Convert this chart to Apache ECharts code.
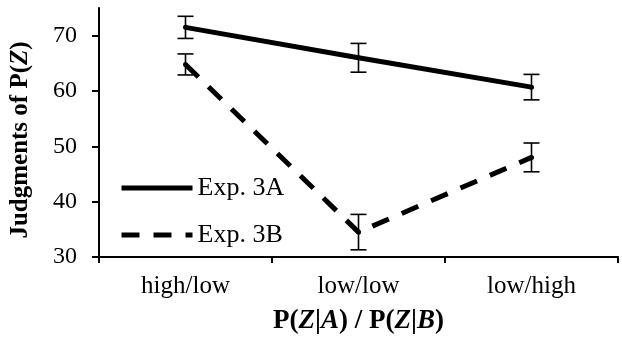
<!DOCTYPE html>
<html>
<head>
<meta charset="utf-8">
<script src="https://cdn.jsdelivr.net/npm/echarts@6/dist/echarts.min.js"></script>
<style>
    html, body { margin: 0; padding: 0; background: #fff; }
    #chart { width: 622px; height: 340px; }
</style>
</head>
<body>
<div id="chart"></div>
<script>
    // data
    let categories = ['high/low', 'low/low', 'low/high'];
    let exp3A = [71.5, 66.0, 60.7];
    let exp3AErr = [2.0, 2.6, 2.3];
    let exp3B = [64.8, 34.5, 48.0];
    let exp3BErr = [1.9, 3.2, 2.6];
    let yTicks = [30, 40, 50, 60, 70];

    let font = 'Liberation Serif';

    function errData(means, errs) {
        return means.map((m, i) => [i, m, m - errs[i], m + errs[i]]);
    }

    function renderErr(params, api) {
        let x = api.value(0);
        let mid = api.coord([x, api.value(1)]);
        let lo = api.coord([x, api.value(2)]);
        let hi = api.coord([x, api.value(3)]);
        let half = 8;
        let st = {stroke: '#000', lineWidth: 1.6};
        return {
            type: 'group',
            children: [
                {type: 'line', shape: {x1: lo[0], y1: lo[1], x2: hi[0], y2: hi[1]}, style: st},
                {type: 'line', shape: {x1: lo[0] - half, y1: lo[1], x2: lo[0] + half, y2: lo[1]}, style: st},
                {type: 'line', shape: {x1: hi[0] - half, y1: hi[1], x2: hi[0] + half, y2: hi[1]}, style: st},
                {type: 'circle', shape: {cx: mid[0], cy: mid[1], r: 2.5}, style: {fill: '#000'}}
            ]
        };
    }

    function richName(size) {
        return {
            b: {fontFamily: font, fontSize: size, fontWeight: 'bold', color: '#000'},
            bi: {fontFamily: font, fontSize: size, fontWeight: 'bold', fontStyle: 'italic', color: '#000'}
        };
    }

    let myChart = echarts.init(document.getElementById('chart'));
    let option = {
        animation: false,
        textStyle: {fontFamily: font, color: '#000'},
        grid: {left: 98, right: 4, top: 8, bottom: 83},
        legend: {
            data: ['Exp. 3A', 'Exp. 3B'],
            orient: 'vertical',
            left: 119,
            top: 175,
            padding: 0,
            itemWidth: 71,
            itemHeight: 14,
            itemGap: 21,
            itemStyle: {color: 'rgba(0,0,0,0)', borderWidth: 0},
            lineStyle: {width: 5},
            textStyle: {fontFamily: font, fontSize: 26, color: '#000', padding: [0, 0, 0, 0]}
        },
        xAxis: {
            type: 'category',
            data: categories,
            boundaryGap: true,
            axisLine: {lineStyle: {color: '#000', width: 2}},
            axisTick: {show: true, length: 6, lineStyle: {color: '#000', width: 2}},
            axisLabel: {fontFamily: font, fontSize: 25, color: '#000', margin: 17},
            name: '{b|P(}{bi|Z}{b||}{bi|A}{b|) / P(}{bi|Z}{b||}{bi|B}{b|)}',
            nameLocation: 'middle',
            nameGap: 51,
            nameTextStyle: {rich: richName(27)}
        },
        yAxis: {
            type: 'value',
            min: 30,
            max: 75,
            interval: 10,
            splitLine: {show: false},
            axisLine: {show: true, lineStyle: {color: '#000', width: 2}},
            axisTick: {show: true, length: 7, customValues: yTicks, lineStyle: {color: '#000', width: 2}},
            axisLabel: {fontFamily: font, fontSize: 24, color: '#000', margin: 22, customValues: yTicks},
            name: '{b|Judgments of P(}{bi|Z}{b|)}',
            nameLocation: 'middle',
            nameGap: 66,
            nameRotate: 90,
            nameTextStyle: {rich: richName(25), padding: [0, 15, 0, 0]}
        },
        series: [
            {
                name: 'Exp. 3A',
                type: 'line',
                data: exp3A,
                symbol: 'none',
                itemStyle: {color: '#000'},
                lineStyle: {color: '#000', width: 5}
            },
            {
                name: 'Exp. 3B',
                type: 'line',
                data: exp3B,
                symbol: 'none',
                itemStyle: {color: '#000'},
                lineStyle: {color: '#000', width: 5, type: [18, 14]}
            },
            {
                name: 'err3A',
                type: 'custom',
                data: errData(exp3A, exp3AErr),
                renderItem: renderErr,
                z: 3
            },
            {
                name: 'err3B',
                type: 'custom',
                data: errData(exp3B, exp3BErr),
                renderItem: renderErr,
                z: 3
            }
        ]
    };
    myChart.setOption(option);
</script>
</body>
</html>
